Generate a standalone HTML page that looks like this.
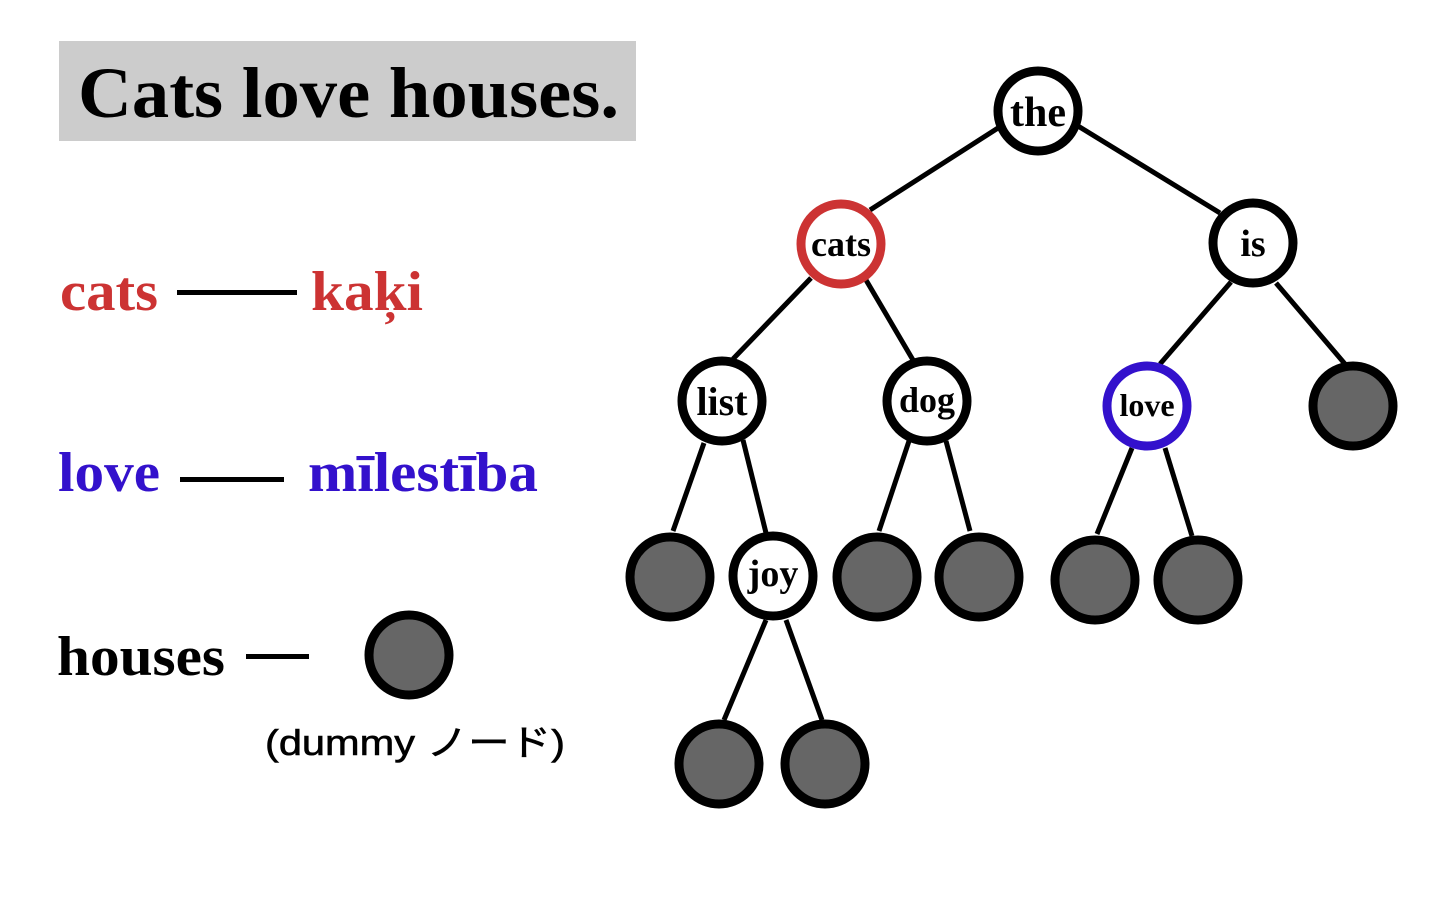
<!DOCTYPE html>
<html><head><meta charset="utf-8"><style>
html,body{margin:0;padding:0;background:#fff;width:1440px;height:900px;overflow:hidden}
svg{display:block}
.s{font-family:"Liberation Serif",serif;font-weight:bold}
</style></head><body>
<svg width="1440" height="900" viewBox="0 0 1440 900" xmlns="http://www.w3.org/2000/svg">
<rect x="59" y="41" width="577" height="100" fill="#cccccc"/>
<text x="78" y="117" class="s" font-size="72" fill="#000" textLength="541" lengthAdjust="spacingAndGlyphs">Cats love houses.</text>

<text x="60" y="310" class="s" font-size="56" fill="#cc3333" textLength="98" lengthAdjust="spacingAndGlyphs">cats</text>
<rect x="177" y="290" width="120" height="5" fill="#000"/>
<text x="311" y="310" class="s" font-size="56" fill="#cc3333" textLength="112" lengthAdjust="spacingAndGlyphs">kaķi</text>

<text x="58" y="491" class="s" font-size="56" fill="#3311cc" textLength="102" lengthAdjust="spacingAndGlyphs">love</text>
<rect x="180" y="477" width="104" height="5" fill="#000"/>
<text x="308" y="491" class="s" font-size="56" fill="#3311cc" textLength="230" lengthAdjust="spacingAndGlyphs">mīlestība</text>

<text x="57" y="675" class="s" font-size="56" fill="#000" textLength="168" lengthAdjust="spacingAndGlyphs">houses</text>
<rect x="246" y="654" width="63" height="5" fill="#000"/>
<circle cx="409" cy="655" r="40" fill="#666" stroke="#000" stroke-width="9"/>
<text x="265" y="755" font-family="'Liberation Sans','Noto Sans CJK JP',sans-serif" font-size="36" fill="#000" stroke="#000" stroke-width="0.6" textLength="300" lengthAdjust="spacingAndGlyphs">(dummy ノード)</text>

<g stroke="#000" stroke-width="5" fill="none">
<line x1="998" y1="128" x2="870" y2="210"/>
<line x1="1078" y1="126" x2="1220" y2="213"/>
<line x1="811" y1="278" x2="733" y2="359"/>
<line x1="866" y1="280" x2="913" y2="360"/>
<line x1="1231" y1="282" x2="1160" y2="364"/>
<line x1="1276" y1="283" x2="1345" y2="364"/>
<line x1="704" y1="443" x2="673" y2="531"/>
<line x1="743" y1="440" x2="766" y2="533"/>
<line x1="909" y1="441" x2="879" y2="531"/>
<line x1="946" y1="441" x2="970" y2="531"/>
<line x1="1132" y1="448" x2="1097" y2="534"/>
<line x1="1165" y1="448" x2="1192" y2="536"/>
<line x1="766" y1="620" x2="724" y2="720"/>
<line x1="786" y1="620" x2="822" y2="720"/>
</g>

<g stroke-width="9">
<circle cx="1038" cy="111" r="40" fill="#fff" stroke="#000"/>
<circle cx="841" cy="244" r="40" fill="#fff" stroke="#cc3333"/>
<circle cx="1253" cy="243" r="40" fill="#fff" stroke="#000"/>
<circle cx="722" cy="401" r="40" fill="#fff" stroke="#000"/>
<circle cx="927" cy="401" r="40" fill="#fff" stroke="#000"/>
<circle cx="1147" cy="406" r="40" fill="#fff" stroke="#3311cc"/>
<circle cx="1353" cy="406" r="40" fill="#666" stroke="#000"/>
<circle cx="670" cy="577" r="40" fill="#666" stroke="#000"/>
<circle cx="773" cy="576" r="40" fill="#fff" stroke="#000"/>
<circle cx="877" cy="577" r="40" fill="#666" stroke="#000"/>
<circle cx="979" cy="577" r="40" fill="#666" stroke="#000"/>
<circle cx="1095" cy="580" r="40" fill="#666" stroke="#000"/>
<circle cx="1198" cy="580" r="40" fill="#666" stroke="#000"/>
<circle cx="719" cy="764" r="40" fill="#666" stroke="#000"/>
<circle cx="825" cy="764" r="40" fill="#666" stroke="#000"/>
</g>

<g class="s" text-anchor="middle" fill="#000">
<text x="1038" y="126" font-size="42">the</text>
<text x="841" y="256" font-size="36">cats</text>
<text x="1253" y="256" font-size="38">is</text>
<text x="722" y="415" font-size="40">list</text>
<text x="927" y="412" font-size="36">dog</text>
<text x="1147" y="416" font-size="32">love</text>
<text x="773" y="586" font-size="38">joy</text>
</g>
</svg>
</body></html>
